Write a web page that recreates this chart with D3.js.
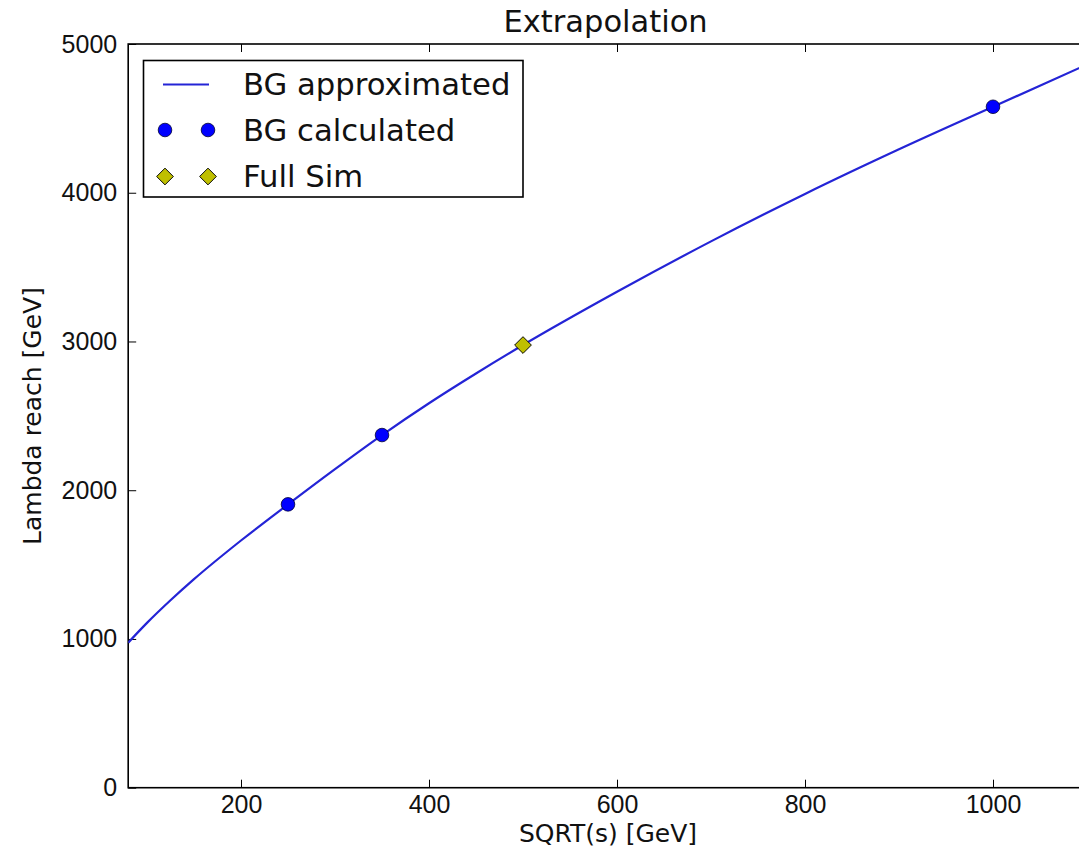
<!DOCTYPE html>
<html>
<head>
<meta charset="utf-8">
<script src="https://cdn.jsdelivr.net/npm/d3@7"></script>
<style>
  html, body { margin: 0; padding: 0; background: #fff; }
  svg { display: block; font-family: "DejaVu Sans", sans-serif; }
</style>
</head>
<body>
<svg id="chart" width="1079" height="849"></svg>
<script>
// Approximated background reach, sampled along the curve
const approxSqrtS  = [80, 100, 125, 150, 200, 250, 300, 350, 400, 450, 500, 600, 700, 800, 900, 1000, 1100];
const approxLambda = [975, 1108, 1260, 1402, 1662, 1905, 2142, 2371, 2585, 2785, 2976, 3334, 3673, 3992, 4292, 4578, 4862];

// Background calculated at the three energies
const calcSqrtS  = [250, 350, 1000];
const calcLambda = [1905, 2371, 4578];

// Full simulation point
const simSqrtS  = [500];
const simLambda = [2976];

// Axis ticks
const xTicks = [200, 400, 600, 800, 1000];
const yTicks = [0, 1000, 2000, 3000, 4000, 5000];

const legendLabels = ["BG approximated", "BG calculated", "Full Sim"];

const lineColor = "#2424d6";
const calcColor = "#0000ff";
const simColor  = "#bfbf00";

const svg = d3.select("#chart");
const plot = { left: 128.2, right: 1087, top: 44, bottom: 787.7 };

const x = d3.scaleLinear().domain([80, 1100]).range([plot.left, plot.right]);
const y = d3.scaleLinear().domain([0, 5000]).range([plot.bottom, plot.top]);

svg.append("defs").append("clipPath").attr("id", "plotClip")
  .append("rect")
  .attr("x", plot.left).attr("y", plot.top)
  .attr("width", plot.right - plot.left).attr("height", plot.bottom - plot.top);

// Axes with inward ticks on all four sides
function styleAxis(g) {
  g.select(".domain").remove();
  g.selectAll(".tick line").attr("stroke", "#000").attr("stroke-width", 1);
  g.selectAll(".tick text").attr("fill", "#111").style("font-size", "25px");
}

svg.append("g")
  .attr("transform", `translate(0,${plot.bottom})`)
  .call(d3.axisBottom(x).tickValues(xTicks).tickSize(-8).tickPadding(8).tickFormat(d3.format("d")))
  .call(styleAxis);

svg.append("g")
  .attr("transform", `translate(0,${plot.top})`)
  .call(d3.axisTop(x).tickValues(xTicks).tickSize(-8).tickFormat(""))
  .call(styleAxis);

svg.append("g")
  .attr("transform", `translate(${plot.left},0)`)
  .call(d3.axisLeft(y).tickValues(yTicks).tickSize(-8).tickPadding(11).tickFormat(d3.format("d")))
  .call(styleAxis);

svg.append("g")
  .attr("transform", `translate(${plot.right},0)`)
  .call(d3.axisRight(y).tickValues(yTicks).tickSize(-8).tickFormat(""))
  .call(styleAxis);

// Frame
svg.append("rect")
  .attr("x", plot.left).attr("y", plot.top)
  .attr("width", plot.right - plot.left).attr("height", plot.bottom - plot.top)
  .attr("fill", "none").attr("stroke", "#000").attr("stroke-width", 1.6);

// Approximation curve
const approx = approxSqrtS.map((s, i) => [s, approxLambda[i]]);
svg.append("path")
  .datum(approx)
  .attr("clip-path", "url(#plotClip)")
  .attr("fill", "none")
  .attr("stroke", lineColor)
  .attr("stroke-width", 2.2)
  .attr("d", d3.line().x(d => x(d[0])).y(d => y(d[1])).curve(d3.curveMonotoneX));

// Calculated points
const dotR = 6.8;
svg.append("g").selectAll("circle")
  .data(calcSqrtS.map((s, i) => [s, calcLambda[i]]))
  .join("circle")
  .attr("cx", d => x(d[0])).attr("cy", d => y(d[1]))
  .attr("r", dotR)
  .attr("fill", calcColor).attr("stroke", "#000033").attr("stroke-width", 0.8);

// Full simulation diamonds
const diamond = d3.symbol().type(d3.symbolSquare).size(140);
svg.append("g").selectAll("path")
  .data(simSqrtS.map((s, i) => [s, simLambda[i]]))
  .join("path")
  .attr("transform", d => `translate(${x(d[0])},${y(d[1])}) rotate(45)`)
  .attr("d", diamond)
  .attr("fill", simColor).attr("stroke", "#000").attr("stroke-width", 0.9);

// Legend
const legend = svg.append("g");
legend.append("rect")
  .attr("x", 143.5).attr("y", 60.5).attr("width", 379.5).attr("height", 136.5)
  .attr("fill", "#fff").attr("stroke", "#000").attr("stroke-width", 1.6);

const rowY = [84.5, 130, 176.5];
legend.append("line")
  .attr("x1", 163).attr("x2", 209).attr("y1", rowY[0]).attr("y2", rowY[0])
  .attr("stroke", lineColor).attr("stroke-width", 2.2);
[165, 208].forEach(cx => {
  legend.append("circle").attr("cx", cx).attr("cy", rowY[1]).attr("r", dotR)
    .attr("fill", calcColor).attr("stroke", "#000033").attr("stroke-width", 0.8);
  legend.append("path").attr("transform", `translate(${cx},${rowY[2]}) rotate(45)`)
    .attr("d", diamond)
    .attr("fill", simColor).attr("stroke", "#000").attr("stroke-width", 0.9);
});
legend.selectAll("text")
  .data(legendLabels)
  .join("text")
  .attr("x", 243)
  .attr("y", (d, i) => rowY[i] + 10.8)
  .attr("fill", "#111")
  .style("font-size", "30.7px")
  .text(d => d);

// Title and axis labels
svg.append("text")
  .attr("x", (plot.left + plot.right) / 2 - 2).attr("y", 32)
  .attr("text-anchor", "middle").attr("fill", "#111")
  .style("font-size", "30.5px")
  .text("Extrapolation");

svg.append("text")
  .attr("x", 608).attr("y", 842)
  .attr("text-anchor", "middle").attr("fill", "#111")
  .style("font-size", "25px")
  .text("SQRT(s) [GeV]");

svg.append("text")
  .attr("transform", "translate(41,416) rotate(-90)")
  .attr("text-anchor", "middle").attr("fill", "#111")
  .style("font-size", "25px")
  .text("Lambda reach [GeV]");
</script>
</body>
</html>
